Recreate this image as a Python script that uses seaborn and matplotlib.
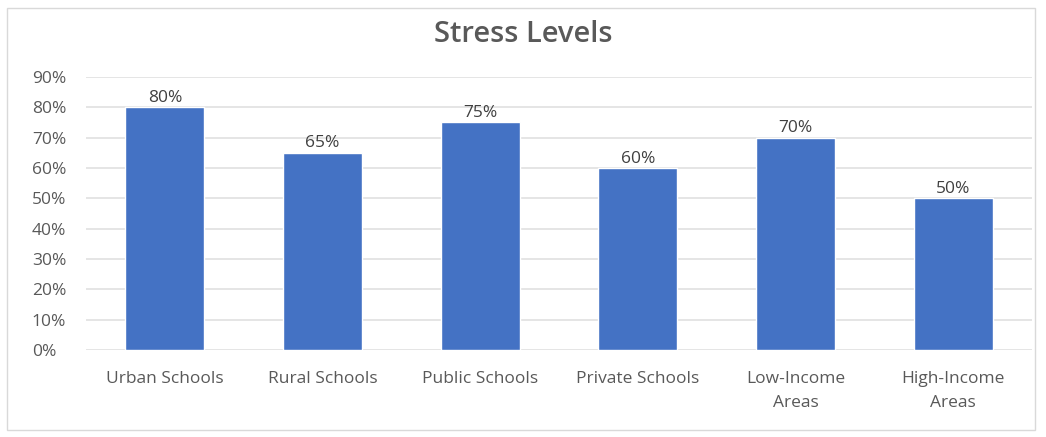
import matplotlib
matplotlib.use("Agg")
import matplotlib.pyplot as plt
import seaborn as sns
import pandas as pd
from matplotlib.patches import Rectangle
from matplotlib.ticker import FuncFormatter

categories = ["Urban Schools", "Rural Schools", "Public Schools", "Private Schools",
              "Low-Income\nAreas", "High-Income\nAreas"]
stress = [0.80, 0.65, 0.75, 0.60, 0.70, 0.50]
yticks = [0.0, 0.1, 0.2, 0.3, 0.4, 0.5, 0.6, 0.7, 0.8, 0.9]

sns.set_theme(style="white")
plt.rcParams["font.family"] = ["Open Sans", "DejaVu Sans"]

df = pd.DataFrame({"category": categories, "stress": stress})

fig = plt.figure(figsize=(10.46, 4.37), dpi=100)
ax = fig.add_axes([0.0822, 0.199, 0.9044, 0.6252])

sns.barplot(data=df, x="category", y="stress", color="#4472C4", width=0.5,
            saturation=1, ax=ax, zorder=3)

ax.set_ylim(0, 0.9)
ax.set_yticks(yticks)
ax.yaxis.set_major_formatter(FuncFormatter(lambda v, _: f"{v*100:.0f}%"))
ax.grid(axis="y", color="#e0e0e0", linewidth=1.2, zorder=0)
ax.grid(axis="x", visible=False)
for s in ax.spines.values():
    s.set_visible(False)
ax.tick_params(axis="both", length=0, labelsize=12.5, colors="#595959")
ax.tick_params(axis="x", pad=15)
ax.tick_params(axis="y", pad=39)
for lbl in ax.get_yticklabels():
    lbl.set_horizontalalignment("left")
for lbl in ax.get_xticklabels():
    lbl.set_linespacing(1.7)
ax.set_xlabel("")
ax.set_ylabel("")

for cont in ax.containers:
    ax.bar_label(cont, labels=[f"{v*100:.0f}%" for v in stress], padding=1,
                 fontsize=12.5, color="#404040")

fig.text(0.5, 0.922, "Stress Levels", ha="center", va="center",
         fontsize=21, fontweight="semibold", color="#595959")

fig.patches.append(Rectangle((7 / 1046, 1 - 430 / 437), 1028 / 1046, 422 / 437,
                             transform=fig.transFigure, fill=False,
                             edgecolor="#d9d9d9", linewidth=1))

fig.savefig("out.png", dpi=100)
